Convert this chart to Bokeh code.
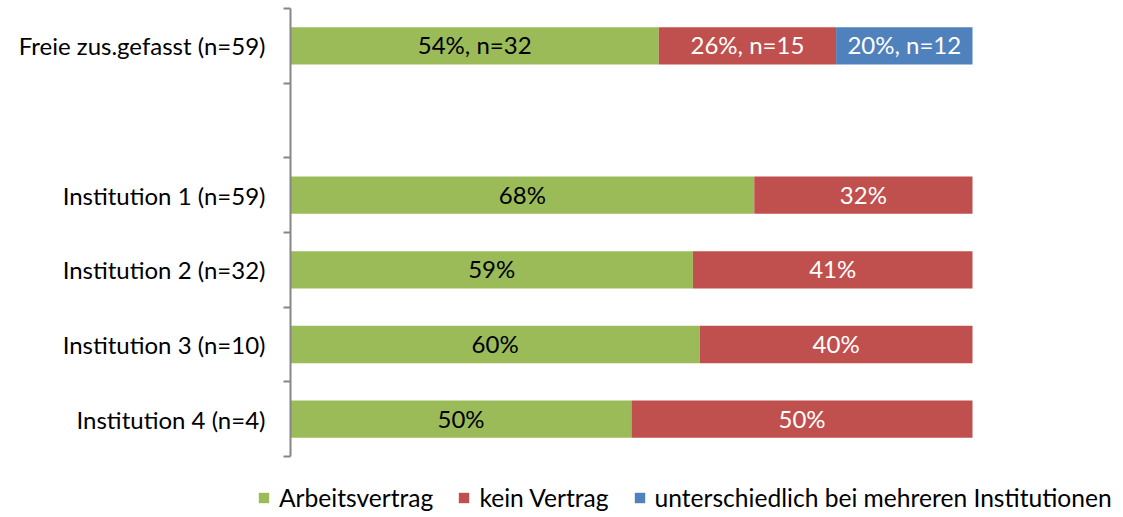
from bokeh.plotting import figure
from bokeh.models import ColumnDataSource, Range1d, FixedTicker, Legend, LegendItem
from bokeh.core.properties import value
from bokeh.embed import file_html
from bokeh.resources import INLINE

# ---- data ----
categories = ["Freie zus.gefasst (n=59)", "", "Institution 1 (n=59)",
              "Institution 2 (n=32)", "Institution 3 (n=10)", "Institution 4 (n=4)"]
arbeitsvertrag = [54, 0, 68, 59, 60, 50]
kein_vertrag = [26, 0, 32, 41, 40, 50]
unterschiedlich = [20, 0, 0, 0, 0, 0]
labels_green = ["54%, n=32", "", "68%", "59%", "60%", "50%"]
labels_red = ["26%, n=15", "", "32%", "41%", "40%", "50%"]
labels_blue = ["20%, n=12", "", "", "", "", ""]
series_names = ["Arbeitsvertrag", "kein Vertrag", "unterschiedlich bei mehreren Institutionen"]
colors = ["#9BBB59", "#C0504D", "#4F81BD"]

FONT = "Lato"
FS = "24px"
n = len(categories)
ypos = [n - i - 0.5 for i in range(n)]

W, H = 1115, 512
AX_X, BAR_END = 290, 972         # pixel position of 0% and 100%
TOP, BOTTOM = 8, 456             # pixel extent of category slots
pxu = (BAR_END - AX_X) / 100.0
pyu = (BOTTOM - TOP) / n
x0 = -AX_X / pxu
x1 = (W - AX_X) / pxu
y1 = n + TOP / pyu
y0 = y1 - H / pyu

p = figure(width=W, height=H, output_backend="svg", toolbar_location=None,
           x_range=Range1d(x0, x1), y_range=Range1d(y0, y1),
           min_border_left=0, min_border_right=0, min_border_top=0, min_border_bottom=0)
p.outline_line_color = None
p.xaxis.visible = False
p.xgrid.visible = False
p.ygrid.visible = False
p.background_fill_color = "white"

left0 = [0] * n
r1 = [a for a in arbeitsvertrag]
r2 = [a + k for a, k in zip(arbeitsvertrag, kein_vertrag)]
r3 = [a + k + u for a, k, u in zip(arbeitsvertrag, kein_vertrag, unterschiedlich)]

src = ColumnDataSource(dict(y=ypos, l0=left0, r1=r1, r2=r2, r3=r3))
h = 0.5
g1 = p.hbar(y="y", left="l0", right="r1", height=h, color=colors[0], line_color=None, source=src)
g2 = p.hbar(y="y", left="r1", right="r2", height=h, color=colors[1], line_color=None, source=src)
g3 = p.hbar(y="y", left="r2", right="r3", height=h, color=colors[2], line_color=None, source=src)

def add_labels(lefts, rights, texts, color):
    xs, ys, ts = [], [], []
    for l, r, t, y in zip(lefts, rights, texts, ypos):
        if t:
            xs.append((l + r) / 2); ys.append(y); ts.append(t)
    p.text(x=xs, y=ys, text=ts, text_align="center", text_baseline="middle",
           text_font=value(FONT), text_font_size=FS, text_color=color, y_offset=-1)

add_labels(left0, r1, labels_green, "#000000")
add_labels(r1, r2, labels_red, "#FFFFFF")
add_labels(r2, r3, labels_blue, "#FFFFFF")

# y axis placed at x=0: labels at slot centers, tick marks at slot boundaries
ax = p.yaxis[0]
ax.fixed_location = 0
ax.bounds = (0, n)
centers = [y for y, c in zip(ypos, categories) if c]
ax.ticker = FixedTicker(ticks=centers, minor_ticks=list(range(n + 1)))
ax.major_label_overrides = {y: c for y, c in zip(ypos, categories) if c}
ax.major_tick_out = 0
ax.major_tick_in = 0
ax.minor_tick_out = 7
ax.minor_tick_in = 0
ax.minor_tick_line_color = "#868686"
ax.minor_tick_line_width = 2
ax.axis_line_color = "#868686"
ax.axis_line_width = 2
ax.major_label_text_font = FONT
ax.major_label_text_font_size = FS
ax.major_label_text_color = "#000000"
ax.major_label_standoff = 18

legend = Legend(items=[LegendItem(label=series_names[0], renderers=[g1]),
                       LegendItem(label=series_names[1], renderers=[g2]),
                       LegendItem(label=series_names[2], renderers=[g3])],
                orientation="horizontal", location=(257, 0),
                glyph_width=13, glyph_height=13, label_standoff=9, spacing=24,
                padding=0, margin=0, border_line_color=None, background_fill_alpha=0,
                label_text_font=FONT, label_text_font_size="24.6px", label_text_color="#000000")
p.add_layout(legend, "center")

open("out.html", "w").write(file_html(p, INLINE))
